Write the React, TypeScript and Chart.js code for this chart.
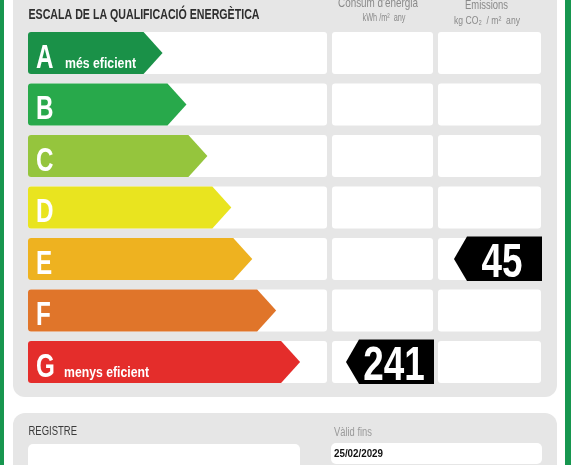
import React, { useEffect, useRef } from 'react';
import { Chart, registerables } from 'chart.js';

Chart.register(...registerables);

// ---- data ----
const classes = ['A', 'B', 'C', 'D', 'E', 'F', 'G'];
const arrowLengths = [45, 53, 60, 68, 75, 83, 91];
const classColors = ['#1a9148', '#28a94b', '#95c53d', '#e9e41f', '#eeb220', '#e0752a', '#e42d2b'];
const classNotes = ['més eficient', '', '', '', '', '', 'menys eficient'];
const consumptionValue = 241;
const consumptionClass = 'G';
const emissionsValue = 45;
const emissionsClass = 'E';
const titleText = 'ESCALA DE LA QUALIFICACIÓ ENERGÈTICA';
const consumptionHeader = ["Consum d'energia", 'kWh /m²  any'];
const emissionsHeader = ['Emissions', 'kg CO₂  / m²  any'];
const registerLabel = 'REGISTRE';
const validLabel = 'Vàlid fins';
const validDate = '25/02/2029';

// ---- layout / style ----
const W = 573;
const H = 465;
const NARROW = '"Liberation Sans Narrow", "Liberation Sans", Arial, sans-serif';
const GREEN = '#17964f';
const PANEL = '#e6e6e6';
const COL1 = [28, 327];
const COL2 = [332, 433];
const COL3 = [438, 541];
const ROW_H = 42;

function roundRect(ctx: CanvasRenderingContext2D, x: number, y: number, w: number, h: number, r: number) {
  ctx.beginPath();
  ctx.moveTo(x + r, y);
  ctx.lineTo(x + w - r, y);
  ctx.arcTo(x + w, y, x + w, y + r, r);
  ctx.lineTo(x + w, y + h - r);
  ctx.arcTo(x + w, y + h, x + w - r, y + h, r);
  ctx.lineTo(x + r, y + h);
  ctx.arcTo(x, y + h, x, y + h - r, r);
  ctx.lineTo(x, y + r);
  ctx.arcTo(x, y, x + r, y, r);
  ctx.closePath();
}

function drawText(
  ctx: CanvasRenderingContext2D,
  text: string,
  x: number,
  y: number,
  font: string,
  color: string,
  opts: { align?: 'left' | 'center' | 'right'; width?: number; scale?: number } = {}
) {
  ctx.save();
  ctx.font = font;
  ctx.fillStyle = color;
  ctx.textAlign = 'left';
  ctx.textBaseline = 'alphabetic';
  const w = ctx.measureText(text).width;
  const s = opts.width ? opts.width / w : opts.scale ?? 1;
  let x0 = x;
  if (opts.align === 'center') x0 = x - (w * s) / 2;
  if (opts.align === 'right') x0 = x - w * s;
  ctx.translate(x0, y);
  ctx.scale(s, 1);
  ctx.fillText(text, 0, 0);
  ctx.restore();
}

const labelPlugin = {
  id: 'energyLabel',
  beforeDraw(chart: any) {
    const ctx: CanvasRenderingContext2D = chart.ctx;
    const yScale = chart.scales.y;
    ctx.save();
    ctx.fillStyle = '#ffffff';
    ctx.fillRect(0, 0, W, H);
    // green frame
    ctx.fillStyle = GREEN;
    ctx.fillRect(0, 0, 4, H);
    ctx.fillRect(565, 0, 6, H);
    // main panel
    ctx.fillStyle = PANEL;
    roundRect(ctx, 13, -30, 544, 427, 12);
    ctx.fill();
    // bottom panel
    roundRect(ctx, 13, 413, 544, 80, 12);
    ctx.fill();

    // headers
    drawText(ctx, titleText, 28.5, 18.5, `bold 15px ${NARROW}`, '#2e2e2e', { width: 231 });
    drawText(ctx, consumptionHeader[0], 378, 7, `13px ${NARROW}`, '#8a8a8a', { align: 'center', width: 80 });
    drawText(ctx, consumptionHeader[1], 384, 20.5, `11px ${NARROW}`, '#8a8a8a', { align: 'center', width: 43 });
    drawText(ctx, emissionsHeader[0], 486.5, 9, `13px ${NARROW}`, '#8a8a8a', { align: 'center', width: 43 });
    drawText(ctx, emissionsHeader[1], 487, 23.5, `11px ${NARROW}`, '#8a8a8a', { align: 'center', width: 66 });

    // row boxes
    ctx.fillStyle = '#ffffff';
    classes.forEach((_, i) => {
      const cy = yScale.getPixelForValue(i);
      const top = cy - ROW_H / 2;
      [COL1, COL2, COL3].forEach(([l, r]) => {
        roundRect(ctx, l, top, r - l, ROW_H, 3);
        ctx.fill();
      });
    });

    // bottom panel contents
    drawText(ctx, registerLabel, 28.5, 435, `12px ${NARROW}`, '#3a3a3a', { width: 48.5 });
    drawText(ctx, validLabel, 334, 435.7, `12px ${NARROW}`, '#9a9a9a', { width: 38 });
    ctx.fillStyle = '#ffffff';
    roundRect(ctx, 28, 444, 272, 40, 5);
    ctx.fill();
    roundRect(ctx, 331, 443, 211, 21, 5);
    ctx.fill();
    drawText(ctx, validDate, 334, 456.7, `bold 10.5px ${NARROW}`, '#111111', { width: 49 });
    ctx.restore();
  },
  afterDatasetsDraw(chart: any) {
    const ctx: CanvasRenderingContext2D = chart.ctx;
    const yScale = chart.scales.y;
    const meta = chart.getDatasetMeta(0);
    ctx.save();
    // letter scale
    ctx.font = `bold 33px ${NARROW}`;
    const letterScale = 17.5 / ctx.measureText('A').width;
    meta.data.forEach((el: any, i: number) => {
      const { x, y, base, height } = el.getProps(['x', 'y', 'base', 'height'], true);
      const left = base;
      const right = x;
      const top = y - height / 2;
      const bottom = y + height / 2;
      const d = 19;
      const r = 3;
      ctx.fillStyle = classColors[i];
      ctx.beginPath();
      ctx.moveTo(left + r, top);
      ctx.lineTo(right - d, top);
      ctx.lineTo(right, y);
      ctx.lineTo(right - d, bottom);
      ctx.lineTo(left + r, bottom);
      ctx.arcTo(left, bottom, left, bottom - r, r);
      ctx.lineTo(left, top + r);
      ctx.arcTo(left, top, left + r, top, r);
      ctx.closePath();
      ctx.fill();
      drawText(ctx, classes[i], left + 8, y + 14.8, `bold 33px ${NARROW}`, '#ffffff', { scale: letterScale });
      if (classNotes[i]) {
        const nx = i === 0 ? 65 : 64;
        const nw = i === 0 ? 71 : 85;
        drawText(ctx, classNotes[i], nx, y + 15, `bold 15px ${NARROW}`, '#ffffff', { width: nw });
      }
    });

    // value markers
    ctx.font = `bold 49px ${NARROW}`;
    const digitScale = 20.5 / ctx.measureText('0').width;
    const drawMarker = (value: number, cls: string, col: number[]) => {
      const cy = yScale.getPixelForValue(classes.indexOf(cls));
      const right = col[1] + 1;
      const left = right - 88;
      const top = cy - 22.5;
      const bottom = cy + 22;
      const d = 13;
      ctx.fillStyle = '#000000';
      ctx.beginPath();
      ctx.moveTo(left + d, top);
      ctx.lineTo(right, top);
      ctx.lineTo(right, bottom);
      ctx.lineTo(left + d, bottom);
      ctx.lineTo(left, cy);
      ctx.closePath();
      ctx.fill();
      drawText(ctx, String(value), right - 40, cy + 18, `bold 49px ${NARROW}`, '#ffffff', {
        align: 'center',
        scale: digitScale,
      });
    };
    drawMarker(consumptionValue, consumptionClass, COL2);
    drawMarker(emissionsValue, emissionsClass, COL3);
    ctx.restore();
  },
};

export default function App() {
  const canvasRef = useRef<HTMLCanvasElement | null>(null);

  useEffect(() => {
    if (!canvasRef.current) return;
    const chart = new Chart(canvasRef.current, {
      type: 'bar',
      data: {
        labels: classes,
        datasets: [
          {
            label: 'Classe',
            data: arrowLengths,
            backgroundColor: 'rgba(0,0,0,0)',
            borderWidth: 0,
            barThickness: ROW_H,
          },
        ],
      },
      options: {
        indexAxis: 'y',
        responsive: false,
        animation: false,
        devicePixelRatio: 1,
        layout: { padding: { left: 28, right: W - 327, top: 27.25, bottom: H - 387.75 } },
        scales: {
          x: { type: 'linear', min: 0, max: 100, display: false },
          y: { type: 'category', display: false, offset: true },
        },
        plugins: { legend: { display: false }, tooltip: { enabled: false } },
      },
      plugins: [labelPlugin],
    });
    return () => chart.destroy();
  }, []);

  return (
    <div style={{ position: 'fixed', left: 0, top: 0, width: W, height: H, background: '#fff' }}>
      <canvas ref={canvasRef} width={W} height={H} style={{ display: 'block' }} />
    </div>
  );
}
